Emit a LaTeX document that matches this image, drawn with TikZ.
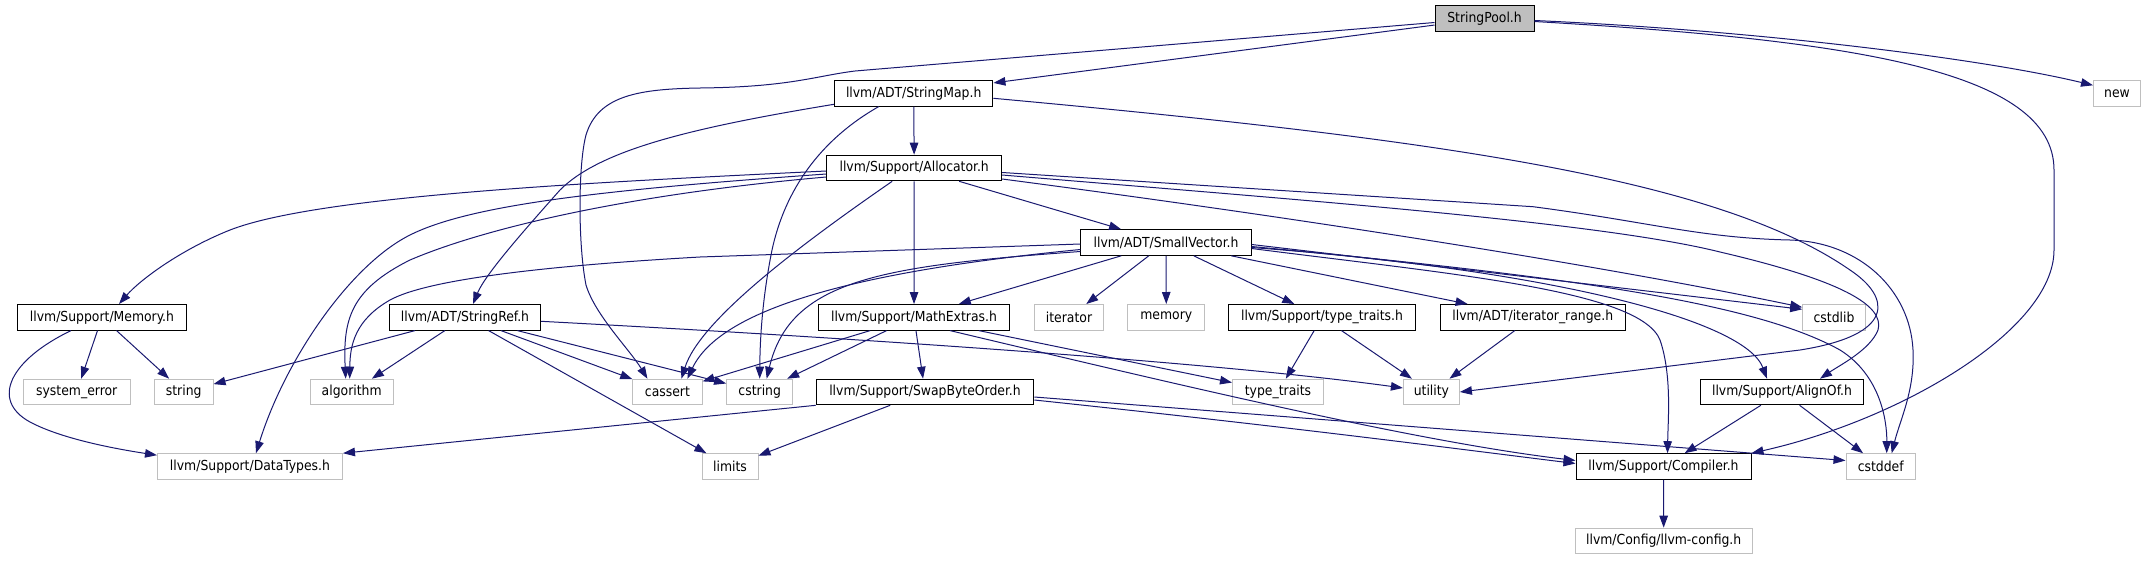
\documentclass[tikz,border=0pt]{standalone}
\usepackage{fontspec}
\usetikzlibrary{arrows.meta}
\newfontfamily\gfont{DejaVu Sans Condensed}
\definecolor{edgecol}{HTML}{191970}
\definecolor{sysgray}{HTML}{BFBFBF}
\tikzset{
  nbase/.style={rectangle, minimum height=25.6pt, inner sep=0pt, line width=1pt,
    font={\gfont\fontsize{13.8}{16}\selectfont}},
  proj/.style={nbase, draw=black},
  sys/.style={nbase, draw=sysgray},
  conn/.style={draw=edgecol, line width=1pt, -{Triangle[length=12pt,width=8.5pt,fill=edgecol]}}
}
\begin{document}
\begin{tikzpicture}[x=1pt,y=-1pt]
\useasboundingbox (0,0) rectangle (2146,560);
% rank 0
\node[proj, fill=sysgray, minimum width=99pt] (SP) at (1484.5,18.5) {StringPool.h};
% rank 1
\node[proj, minimum width=158.5pt] (SM) at (913.7,93.3) {llvm/ADT/StringMap.h};
\node[sys, minimum width=47pt] (NEW) at (2117,93.3) {new};
% rank 2
\node[proj, minimum width=175pt] (AL) at (914.2,168) {llvm/Support/Allocator.h};
% rank 3
\node[proj, minimum width=170.4pt] (SV) at (1166,242.5) {llvm/ADT/SmallVector.h};
% rank 4
\node[proj, minimum width=169.5pt] (MEM) at (102,317.3) {llvm/Support/Memory.h};
\node[proj, minimum width=151pt] (SR) at (465,317.3) {llvm/ADT/StringRef.h};
\node[proj, minimum width=191pt] (ME) at (914,317.3) {llvm/Support/MathExtras.h};
\node[sys, minimum width=69.3pt] (IT) at (1069,317.3) {iterator};
\node[sys, minimum width=76.7pt] (MY) at (1166.3,317.3) {memory};
\node[proj, minimum width=186.8pt] (TT) at (1322,317.3) {llvm/Support/type\_traits.h};
\node[proj, minimum width=185.6pt] (IR) at (1532.8,317.3) {llvm/ADT/iterator\_range.h};
\node[sys, minimum width=62.6pt] (CL) at (1834,317.3) {cstdlib};
% rank 5
\node[sys, minimum width=106.6pt] (SE) at (76.7,392) {system\_error};
\node[sys, minimum width=58.7pt] (STR) at (183.7,392) {string};
\node[sys, minimum width=82.6pt] (ALG) at (351.7,392) {algorithm};
\node[sys, minimum width=69.3pt] (CA) at (667.4,392) {cassert};
\node[sys, minimum width=66.1pt] (CS) at (759.7,392) {cstring};
\node[proj, minimum width=217.6pt] (SBO) at (925,392) {llvm/Support/SwapByteOrder.h};
\node[sys, minimum width=91pt] (TTS) at (1278,392) {type\_traits};
\node[sys, minimum width=56pt] (UT) at (1431.4,392) {utility};
\node[proj, minimum width=163pt] (AO) at (1782,392) {llvm/Support/AlignOf.h};
% rank 6
\node[sys, minimum width=185pt] (DT) at (250,466.5) {llvm/Support/DataTypes.h};
\node[sys, minimum width=56pt] (LIM) at (730,466.5) {limits};
\node[proj, minimum width=175pt] (CO) at (1663.5,466.5) {llvm/Support/Compiler.h};
\node[sys, minimum width=69.4pt] (CD) at (1880.7,466.5) {cstddef};
% rank 7
\node[sys, minimum width=177.4pt] (LC) at (1663.7,541) {llvm/Config/llvm-config.h};

% StringPool.h
\draw[conn] (SP) -- (SM);
\draw[conn] ([yshift=-4pt]SP.west) -- (855,71) .. controls (815,76) and (790,87) .. (700,88)
  .. controls (640,89) and (598,95) .. (586,135) .. controls (578,165) and (578,245) .. (586,285)
  .. controls (595,315) and (630,350) .. ([xshift=-20pt]CA.north);
\draw[conn] ([yshift=-2pt]SP.east) .. controls (1750,30) and (1980,58) .. ([yshift=8pt]NEW.west);
\draw[conn] ([yshift=-3pt]SP.east) .. controls (1850,40) and (2054,70) .. (2054,170) -- (2054,250)
  .. controls (2054,330) and (1900,420) .. (CO.north east);
% StringMap.h
\draw[conn] (SM) -- (AL);
\draw[conn] ([yshift=-11pt]SM.west) .. controls (690,128) and (600,150) .. (560,190)
  .. controls (520,235) and (485,275) .. ([xshift=8pt]SR.north);
\draw[conn] ([xshift=-35pt]SM.south) .. controls (820,140) and (785,190) .. (772,250)
  .. controls (762,300) and (760,340) .. (CS.north);
\draw[conn] ([yshift=-5pt]SM.east) .. controls (1450,140) and (1720,180) .. (1850,270)
  .. controls (1892,298) and (1895,335) .. (1800,350) -- (UT.east);
% Allocator.h
\draw[conn] (AL) -- (SV);
\draw[conn] (AL) -- (ME);
\draw[conn] ([yshift=-3pt]AL.west) .. controls (600,182) and (320,195) .. (230,230)
  .. controls (180,250) and (140,280) .. ([xshift=17pt]MEM.north);
\draw[conn] ([yshift=-6pt]AL.west) .. controls (600,190) and (470,205) .. (410,235)
  .. controls (350,265) and (285,360) .. ([xshift=6pt]DT.north);
\draw[conn] ([yshift=-9pt]AL.west) .. controls (620,195) and (480,230) .. (410,260)
  .. controls (350,290) and (343,320) .. ([xshift=-6pt]ALG.north);
\draw[conn] ([xshift=-22pt]AL.south) .. controls (800,245) and (700,320) .. ([xshift=14pt]CA.north);
\draw[conn] ([yshift=-11pt]AL.east) .. controls (1300,218) and (1600,265) .. ([yshift=10pt]CL.west);
\draw[conn] ([yshift=-4.5pt]AL.east) -- (1533,206.7) .. controls (1650,222) and (1700,238) .. (1790,240)
  .. controls (1860,242) and (1910,290) .. (1913,350) .. controls (1915,390) and (1900,420) .. ([xshift=11pt]CD.north);
\draw[conn] ([yshift=-7pt]AL.east) .. controls (1300,200) and (1600,222) .. (1720,252)
  .. controls (1840,280) and (1885,305) .. (1878,330) .. controls (1870,350) and (1840,365) .. ([xshift=38pt]AO.north);
% SmallVector.h
\draw[conn] ([yshift=-1.5pt]SV.west) -- (700,257) .. controls (560,265) and (430,278) .. (390,300)
  .. controls (355,320) and (350,345) .. ([xshift=-2pt]ALG.north);
\draw[conn] ([yshift=-7pt]SV.west) .. controls (850,272) and (720,310) .. ([xshift=20pt]CA.north);
\draw[conn] ([yshift=-9pt]SV.west) .. controls (880,266) and (790,280) .. ([xshift=7pt]CS.north);
\draw[conn] (SV) -- (ME);
\draw[conn] (SV) -- (IT);
\draw[conn] (SV) -- (MY);
\draw[conn] (SV) -- (TT);
\draw[conn] (SV) -- (IR);
\draw[conn] ([yshift=-2pt]SV.east) -- ([yshift=8pt]CL.west);
\draw[conn] ([yshift=-4pt]SV.east) .. controls (1550,275) and (1750,300) .. (1840,350)
  .. controls (1880,375) and (1887,420) .. ([xshift=6pt]CD.north);
\draw[conn] ([yshift=-5pt]SV.east) .. controls (1550,270) and (1745,320) .. ([xshift=-15pt]AO.north);
\draw[conn] ([yshift=-6pt]SV.east) .. controls (1450,274) and (1640,290) .. (1660,340)
  .. controls (1672,375) and (1668,420) .. ([xshift=4pt]CO.north);
% StringRef.h
\draw[conn] (SR) -- (STR);
\draw[conn] (SR) -- (ALG);
\draw[conn] (SR) -- (CA);
\draw[conn] (SR) -- (CS);
\draw[conn] (SR) -- (LIM);
\draw[conn] ([yshift=-4pt]SR.east) .. controls (800,335) and (1200,360) .. ([yshift=4pt]UT.west);
% Memory.h
\draw[conn] (MEM) -- (SE);
\draw[conn] (MEM) -- (STR);
\draw[conn] ([xshift=-31pt]MEM.south) .. controls (10,360) and (-10,400) .. (30,422)
  .. controls (60,438) and (110,448) .. ([yshift=-2pt]DT.north west);
% MathExtras.h
\draw[conn] (ME) -- (SBO);
\draw[conn] (ME) -- (CA);
\draw[conn] (ME) -- (CS);
\draw[conn] (ME) -- (TTS);
\draw[conn] ([xshift=36pt]ME.south) .. controls (1200,390) and (1420,442) .. ([yshift=6pt]CO.west);
% SwapByteOrder.h
\draw[conn] (SBO) -- (LIM);
\draw[conn] (SBO.south west) -- (DT.north east);
\draw[conn] ([yshift=-8pt]SBO.east) .. controls (1300,428) and (1450,448) .. ([yshift=3pt]CO.west);
\draw[conn] ([yshift=-5pt]SBO.east) -- ([yshift=6pt]CD.west);
% others
\draw[conn] (TT) -- (TTS);
\draw[conn] (TT) -- (UT);
\draw[conn] (IR) -- (UT);
\draw[conn] (AO) -- (CO);
\draw[conn] (AO) -- (CD);
\draw[conn] (CO) -- (LC);
\end{tikzpicture}
\end{document}
